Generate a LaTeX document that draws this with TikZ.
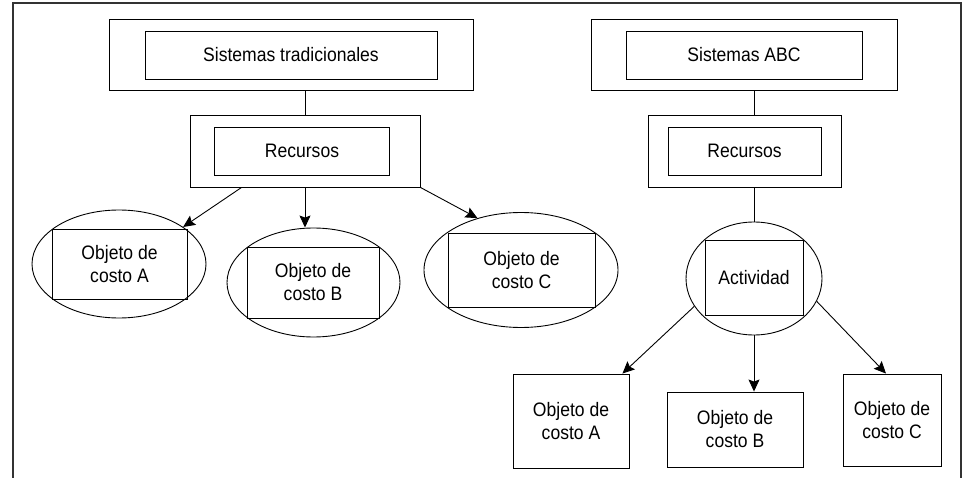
\documentclass[tikz,border=0pt]{standalone}
\usepackage{fontspec}
\setmainfont{Liberation Sans}[FakeStretch=0.9]
\usepackage{tikz}
\usetikzlibrary{arrows.meta,shapes.geometric}

\begin{document}
\begin{tikzpicture}[x=1pt,y=-1pt,
		box/.style={draw, line width=0.9pt, inner sep=0pt, align=center,
			font=\fontsize{19.5}{23}\selectfont},
		frame/.style={draw, line width=0.9pt, inner sep=0pt},
		oval/.style={draw, ellipse, line width=0.9pt, inner sep=0pt},
		arr/.style={-{Stealth[length=12pt,width=11pt,inset=2pt]}, line width=0.9pt}]
			\useasboundingbox (0,0) rectangle (963,478);
			\draw[line width=1.3pt, color=black!80] (13,478) |- (961,3) -- (961,478);
			% sistemas tradicionales
			\node[frame, minimum width=364pt, minimum height=71pt] (tradout) at (291,54.5) {};
			\node[box, minimum width=292pt, minimum height=48pt] (trad) at (291,55) {Sistemas tradicionales};
			\node[frame, minimum width=230pt, minimum height=72pt] (rectout) at (305,151) {};
			\node[box, minimum width=175pt, minimum height=48pt] (rect) at (302,151) {Recursos};
			\node[oval, minimum width=174pt, minimum height=108pt] (ovala) at (119,264) {};
			\node[box, minimum width=135pt, minimum height=70pt] (objta) at (119.5,264) {Objeto de\\costo A};
			\node[oval, minimum width=173pt, minimum height=109pt] (ovalb) at (313.5,282.5) {};
			\node[box, minimum width=132pt, minimum height=71pt] (objtb) at (313,282.5) {Objeto de\\costo B};
			\node[oval, minimum width=194pt, minimum height=115pt] (ovalc) at (521,270) {};
			\node[box, minimum width=147pt, minimum height=74pt] (objtc) at (521.5,270) {Objeto de\\costo C};
			\draw[line width=0.9pt] (rectout.north |- tradout.south) -- (rectout.north);
			\draw[arr] ([xshift=52pt]rectout.south west) -- (ovala.30);
			\draw[arr] (rectout.south) -- (rectout.south |- ovalb.north);
			\draw[arr] (rectout.south east) -- (ovalc.130);
			% sistemas ABC
			\node[frame, minimum width=306pt, minimum height=71pt] (abcout) at (744,54.5) {};
			\node[box, minimum width=236pt, minimum height=48pt] (abc) at (744,55) {Sistemas ABC};
			\node[frame, minimum width=193pt, minimum height=72pt] (recaout) at (744.5,151) {};
			\node[box, minimum width=153pt, minimum height=48pt] (reca) at (744.5,151) {Recursos};
			\node[oval, minimum width=136pt, minimum height=113pt] (ovalact) at (754,278.5) {};
			\node[box, minimum width=98pt, minimum height=75pt] (act) at (754,277.5) {Actividad};
			\node[box, minimum width=116pt, minimum height=94pt] (boxa) at (571,421) {Objeto de\\costo A};
			\node[box, minimum width=136pt, minimum height=75pt] (boxb) at (735,429.5) {Objeto de\\costo B};
			\node[box, minimum width=98pt, minimum height=92pt] (boxc) at (892,420) {Objeto de\\costo C};
			\draw[line width=0.9pt] (ovalact.north |- abcout.south) -- (ovalact.north |- recaout.north);
			\draw[line width=0.9pt] (ovalact.north |- recaout.south) -- (ovalact.north);
			\draw[arr] (ovalact.205) -- ([xshift=-7pt]boxa.north east);
			\draw[arr] (ovalact.south) -- (ovalact.south |- boxb.north);
			\draw[arr] (ovalact.340) -- ([xshift=-6pt]boxc.north);
		\end{tikzpicture}
\end{document}
